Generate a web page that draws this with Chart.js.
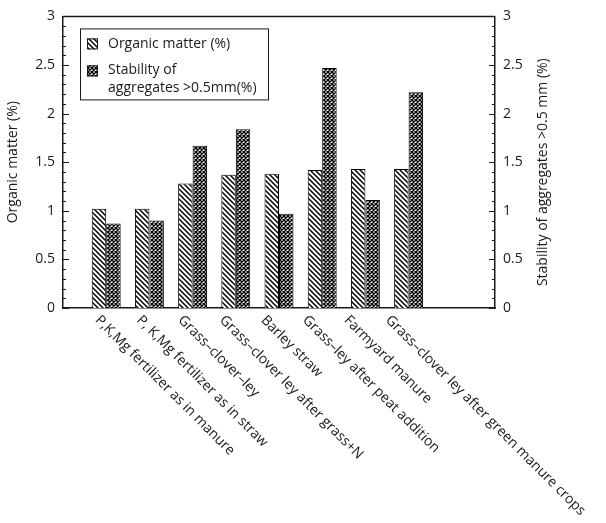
<!DOCTYPE html>
<html>
<head>
<meta charset="utf-8">
<script src="https://cdn.jsdelivr.net/npm/chart.js@4/dist/chart.umd.min.js"></script>
<style>
  html,body{margin:0;padding:0;background:#fff;}
  #wrap{width:606px;height:523px;}
</style>
</head>
<body>
<div id="wrap"><canvas id="chart" width="606" height="523"></canvas></div>
<script>
const categories = [
  'P,K,Mg fertilizer as in manure',
  'P, K,Mg fertilizer as in straw',
  'Grass–clover–ley',
  'Grass–clover ley after grass+N',
  'Barley straw',
  'Grass–ley after peat addition',
  'Farmyard manure',
  'Grass–clover ley after green manure crops'
];
const organicMatter = [1.02, 1.02, 1.28, 1.37, 1.38, 1.42, 1.43, 1.43];
const stability = [0.87, 0.90, 1.67, 1.84, 0.97, 2.47, 1.11, 2.22];
const yTicks = [0, 0.5, 1, 1.5, 2, 2.5, 3];
const seriesNames = ['Organic matter (%)', ['Stability of', 'aggregates >0.5mm(%)']];
const rightTitle = 'Stability of aggregates >0.5 mm (%)';

const FONT = "'Open Sans', sans-serif";
const INK = '#1a1a1a';

// fill patterns
function hatchPattern(){
  const c = document.createElement('canvas');
  c.width = 5; c.height = 5;
  const g = c.getContext('2d');
  g.fillStyle = '#fff'; g.fillRect(0,0,5,5);
  g.strokeStyle = '#000'; g.lineWidth = 1.5;
  g.beginPath();
  g.moveTo(-1,-1); g.lineTo(6,6);
  g.moveTo(-1,4); g.lineTo(1,6);
  g.moveTo(4,-1); g.lineTo(6,1);
  g.stroke();
  return g.createPattern(c,'repeat');
}
function crossPattern(){
  const c = document.createElement('canvas');
  c.width = 4; c.height = 4;
  const g = c.getContext('2d');
  g.fillStyle = '#fff'; g.fillRect(0,0,4,4);
  g.strokeStyle = '#000'; g.lineWidth = 1.4;
  g.beginPath();
  g.moveTo(-1,-1); g.lineTo(5,5);
  g.moveTo(-1,5); g.lineTo(5,-1);
  g.stroke();
  return g.createPattern(c,'repeat');
}
const ctx = document.getElementById('chart').getContext('2d');
const HATCH = hatchPattern();
const CROSS = crossPattern();

// one empty slot before and two after the groups
const labels = ['', ...categories, '', ''];
const pad = arr => [null, ...arr, null, null];

const extras = {
  id:'extras',
  afterDraw(chart){
    const c = chart.ctx;
    const a = chart.chartArea;
    const yl = chart.scales.y, x = chart.scales.x;
    c.save();
    // top frame line
    c.strokeStyle = INK; c.lineWidth = 1.5;
    c.beginPath(); c.moveTo(a.left, a.top); c.lineTo(a.right, a.top); c.stroke();
    // inward ticks, minor every 0.1
    c.lineWidth = 1;
    for(let k = 0; k <= 30; k++){
      const v = k/10;
      const len = k % 5 === 0 ? 6 : 3;
      const py = Math.round(yl.getPixelForValue(v)) + 0.5;
      c.beginPath();
      c.moveTo(a.left, py); c.lineTo(a.left + len, py);
      c.moveTo(a.right, py); c.lineTo(a.right - len, py);
      c.stroke();
    }
    // legend
    const lx = a.left + 17, ly = a.top + 12;
    c.strokeStyle = INK;
    c.strokeRect(lx + 0.5, ly + 0.5, 188, 71);
    const sw = [[HATCH, ly + 10], [CROSS, ly + 37]];
    sw.forEach(([p, sy]) => {
      c.fillStyle = p;
      c.fillRect(lx + 7, sy, 11, 11);
      c.strokeRect(lx + 7.5, sy + 0.5, 10, 10);
    });
    c.fillStyle = INK;
    c.font = '14px ' + FONT;
    c.textBaseline = 'middle'; c.textAlign = 'left';
    c.fillText(seriesNames[0], lx + 28, ly + 16);
    c.fillText(seriesNames[1][0], lx + 28, ly + 42);
    c.fillText(seriesNames[1][1], lx + 28, ly + 60);
    // right axis title, reading bottom to top
    c.save();
    c.translate(a.right + 48, (a.top + a.bottom) / 2 + 10);
    c.rotate(-Math.PI/2);
    c.textAlign = 'center';
    c.fillText(rightTitle, 0, 0);
    c.restore();
    // rotated category labels
    c.textBaseline = 'top';
    categories.forEach((t, i) => {
      const px = x.getPixelForValue(i + 1);
      c.save();
      c.translate(px - 4 - 1.7*i, a.bottom + 5);
      c.rotate(Math.PI/4);
      c.fillText(t, 0, 0);
      c.restore();
    });
    c.restore();
  }
};

const yAxis = (pos, width, title) => ({
  type:'linear', position:pos, min:0, max:3,
  afterBuildTicks(s){ s.ticks = yTicks.map(v => ({value:v})); },
  afterFit(s){ s.width = width; },
  grid:{display:false, drawTicks:false},
  border:{display:true, color:INK, width:1.5},
  ticks:{color:INK, padding:8, font:{family:FONT, size:14}, callback:v => String(v)},
  title:{display:!!title, text:title || '', color:INK, font:{family:FONT, size:14}, padding:{top:4, bottom:4}}
});

new Chart(ctx, {
  type:'bar',
  data:{
    labels:labels,
    datasets:[
      {label:'Organic matter (%)', data:pad(organicMatter), yAxisID:'y',
       backgroundColor:HATCH, borderColor:'#000', borderWidth:1},
      {label:'Stability of aggregates >0.5mm(%)', data:pad(stability), yAxisID:'y1',
       backgroundColor:CROSS, borderColor:'#000', borderWidth:1}
    ]
  },
  options:{
    responsive:false, animation:false,
    datasets:{bar:{categoryPercentage:0.67, barPercentage:1}},
    layout:{padding:{left:1, right:0, top:14, bottom:0}},
    plugins:{legend:{display:false}, tooltip:{enabled:false}},
    scales:{
      x:{
        type:'category', offset:false,
        afterFit(s){ s.height = 215; },
        grid:{display:false, drawTicks:false},
        border:{display:true, color:INK, width:1.5},
        ticks:{display:false}
      },
      y: yAxis('left', 62, 'Organic matter (%)'),
      y1: yAxis('right', 111)
    }
  },
  plugins:[extras]
});
</script>
</body>
</html>
